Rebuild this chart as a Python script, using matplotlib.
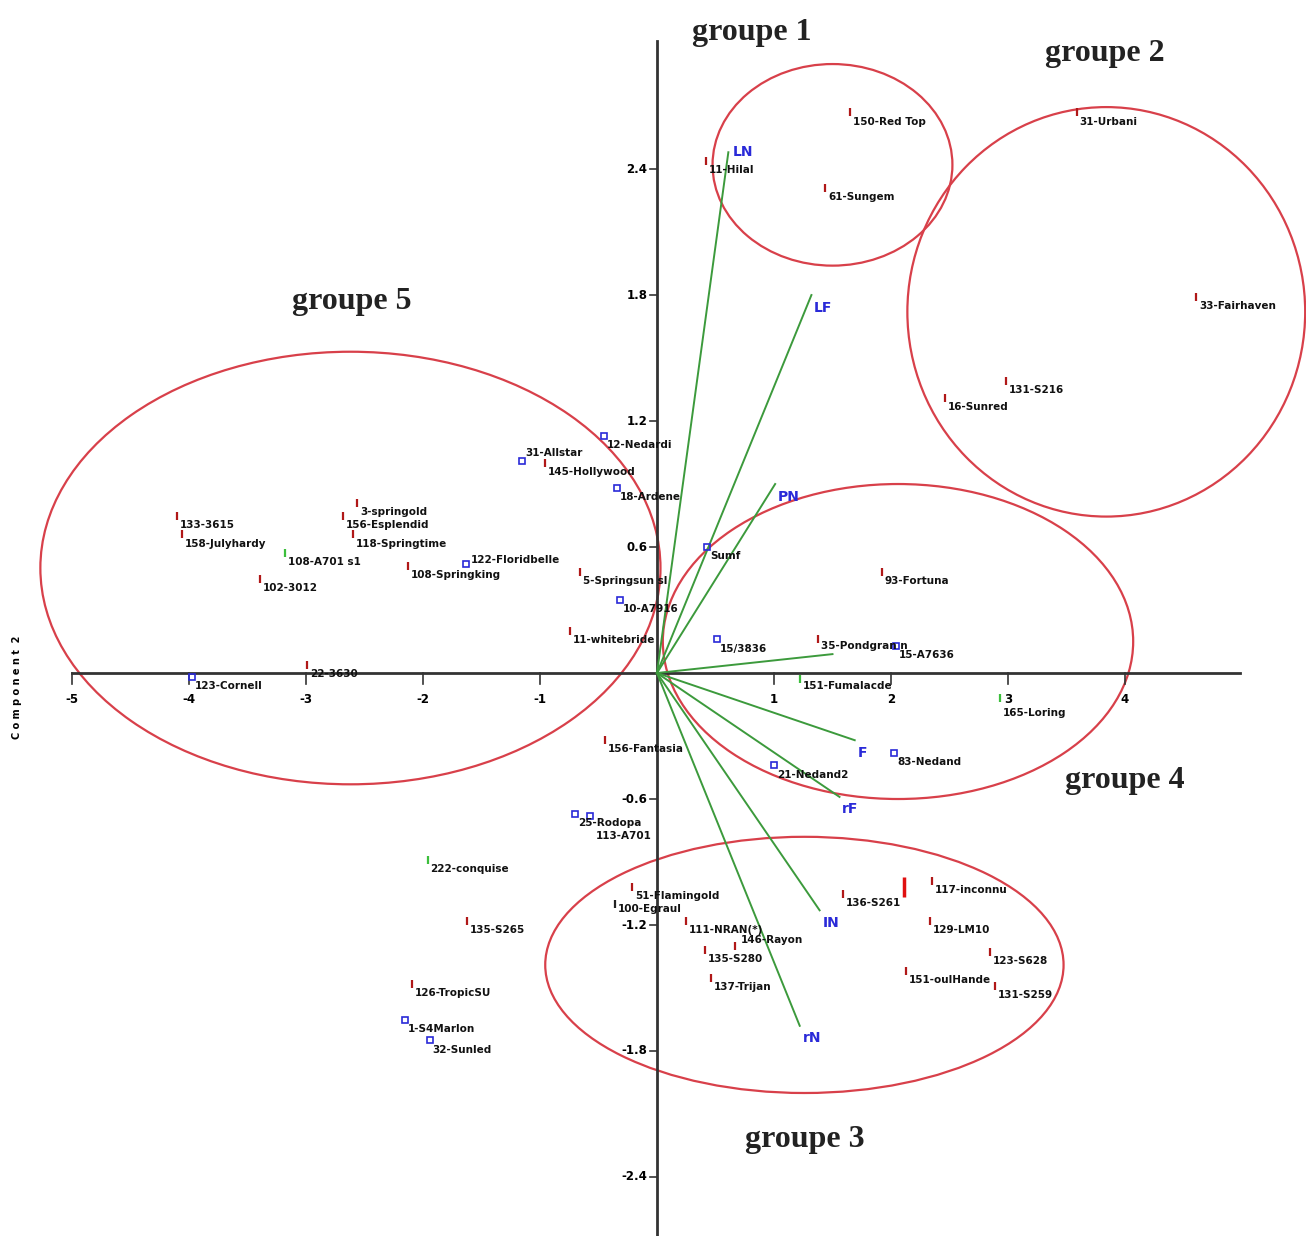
import numpy as np
import matplotlib.pyplot as plt
from matplotlib.patches import Ellipse

plt.rcParams['font.family'] = ['Liberation Sans Narrow', 'DejaVu Sans']

# cultivar scores on components 1 and 2
names = ['150-Red Top', '61-Sungem', '11-Hilal',
         '31-Urbani', '33-Fairhaven', '131-S216', '16-Sunred',
         '133-3615', '158-Julyhardy', '108-A701 s1', '102-3012',
         '3-springold', '156-Esplendid', '118-Springtime', '108-Springking',
         '122-Floridbelle', '31-Allstar', '145-Hollywood', '12-Nedardi',
         '18-Ardene', '5-Springsun sl', '10-A7916', '11-whitebride',
         '123-Cornell', '22-3630',
         'Sumf', '93-Fortuna', '15/3836', '35-Pondgran n', '15-A7636',
         '151-Fumalacde', '165-Loring', '83-Nedand', '21-Nedand2',
         '156-Fantasia', '25-Rodopa', '113-A701', '222-conquise',
         '135-S265', '126-TropicSU', '1-S4Marlon', '32-Sunled',
         '51-Flamingold', '100-Egraul', '111-NRAN(*)', '146-Rayon',
         '135-S280', '137-Trijan', '136-S261', '117-inconnu',
         '129-LM10', '151-oulHande', '123-S628', '131-S259', '']
comp1 = [1.65, 1.44, 0.42,
         3.59, 4.61, 2.98, 2.46,
         -4.10, -4.06, -3.18, -3.39,
         -2.56, -2.68, -2.60, -2.13,
         -1.63, -1.15, -0.96, -0.45,
         -0.34, -0.66, -0.32, -0.74,
         -3.97, -2.99,
         0.43, 1.92, 0.51, 1.38, 2.04,
         1.22, 2.93, 2.03, 1.00,
         -0.44, -0.70, -0.57, -1.96,
         -1.62, -2.09, -2.15, -1.94,
         -0.21, -0.36, 0.25, 0.67,
         0.41, 0.46, 1.59, 2.35,
         2.33, 2.13, 2.85, 2.89, 2.11]
comp2 = [2.67, 2.31, 2.44,
         2.67, 1.79, 1.39, 1.31,
         0.75, 0.66, 0.57, 0.45,
         0.81, 0.75, 0.66, 0.51,
         0.52, 1.01, 1.00, 1.13,
         0.88, 0.48, 0.35, 0.20,
         -0.02, 0.04,
         0.60, 0.48, 0.16, 0.16, 0.13,
         -0.03, -0.12, -0.38, -0.44,
         -0.32, -0.67, -0.68, -0.89,
         -1.18, -1.48, -1.65, -1.75,
         -1.02, -1.10, -1.18, -1.30,
         -1.32, -1.45, -1.05, -0.99,
         -1.18, -1.42, -1.33, -1.49, -1.02]
kind = ['r', 'r', 'r',
        'r', 'r', 'r', 'r',
        'r', 'r', 'g', 'r',
        'r', 'r', 'r', 'r',
        'b', 'b', 'r', 'b',
        'b', 'r', 'b', 'r',
        'b', 'r',
        'b', 'r', 'b', 'r', 'b',
        'g', 'g', 'b', 'b',
        'r', 'b', 'b', 'g',
        'r', 'r', 'b', 'b',
        'r', 'k', 'r', 'r',
        'r', 'r', 'r', 'r',
        'r', 'r', 'r', 'r', 'R']

# variable loadings (arrows)
var_names = ['LN', 'LF', 'PN', '', 'F', 'rF', 'IN', 'rN']
var_x = [0.61, 1.32, 1.01, 1.50, 1.69, 1.56, 1.39, 1.22]
var_y = [2.48, 1.80, 0.90, 0.09, -0.32, -0.59, -1.13, -1.68]

# groups: centre, width, height
grp_names = ['groupe 1', 'groupe 2', 'groupe 3', 'groupe 4', 'groupe 5']
grp_cx = [1.50, 3.84, 1.26, 2.06, -2.62]
grp_cy = [2.42, 1.72, -1.39, 0.15, 0.50]
grp_w = [2.05, 3.40, 4.43, 4.02, 5.30]
grp_h = [0.96, 1.95, 1.22, 1.50, 2.06]
grp_tx = [0.81, 3.83, 1.26, 4.00, -2.61]
grp_ty = [3.05, 2.95, -2.22, -0.51, 1.77]

xticks = [-5, -4, -3, -2, -1, 1, 2, 3, 4]
yticks = [2.4, 1.8, 1.2, 0.6, -0.6, -1.2, -1.8, -2.4]

# label nudges (points) where names crowd each other
nudge = {'31-Allstar': (2, 9), '113-A701': (4, -11), '122-Floridbelle': (3, 6),
         '146-Rayon': (4, 8), '165-Loring': (2, -7), '100-Egraul': (2, 0),
         '35-Pondgran n': (2, -1), '151-Fumalacde': (2, -1)}

fig = plt.figure(figsize=(13.06, 12.36), dpi=100)
ax = fig.add_axes([0, 0, 1, 1])
ax.set_xlim(-5.615, 5.547)
ax.set_ylim(-2.681, 3.205)
ax.axis('off')

# axes through the origin
ax.plot([-5, 4.98], [0, 0], color='#333333', lw=2)
ax.plot([0, 0], [-2.68, 3.01], color='#333333', lw=2)
for t in xticks:
    ax.plot([t, t], [0, -0.05], color='#333333', lw=1.2)
    ax.text(t, -0.097, str(t), ha='center', va='top', fontsize=8.5, fontweight='bold')
for t in yticks:
    ax.plot([-0.06, 0], [t, t], color='#333333', lw=1.2)
    ax.text(-0.08, t, str(t), ha='right', va='center', fontsize=8.5, fontweight='bold')
ax.text(-5.47, -0.07, 'C o m p o n e n t  2', rotation=90, ha='center', va='center',
        fontsize=7, fontweight='bold')

# loadings
for n, vx, vy in zip(var_names, var_x, var_y):
    ax.plot([0, vx], [0, vy], color='#3c9a3c', lw=1.4)
    off = (3, 0) if n == 'LN' else (2, -4)
    va = 'center' if n == 'LN' else 'top'
    ax.annotate(n, (vx, vy), xytext=off, textcoords='offset points',
                ha='left', va=va, color='#2a2ad8', fontsize=10, fontweight='bold')

# cultivars
col = {'r': '#b01818', 'R': '#e01010', 'b': '#2a2ad8', 'g': '#3cbf3c', 'k': '#222222'}
for n, x, y, k in zip(names, comp1, comp2, kind):
    if k == 'b':
        ax.plot(x, y, marker='s', ms=4, mfc='none', mec=col[k], mew=1.2)
    elif k == 'R':
        ax.plot(x, y, marker='|', ms=14, color=col[k], mew=2.5)
    else:
        ax.plot(x, y, marker='|', ms=6, color=col[k], mew=1.6)
    if n:
        ax.annotate(n, (x, y), xytext=nudge.get(n, (2, -3)), textcoords='offset points',
                    ha='left', va='top', fontsize=7.5, fontweight='bold', color='#111111')

# group ellipses and titles
for g, cx, cy, w, h, tx, ty in zip(grp_names, grp_cx, grp_cy, grp_w, grp_h, grp_tx, grp_ty):
    ax.add_patch(Ellipse((cx, cy), w, h, fill=False, ec='#d8404a', lw=1.6))
    ax.text(tx, ty, g, ha='center', va='center', fontsize=23, fontweight='bold',
            family='Liberation Serif', color='#222222')

fig.savefig('out.png', dpi=100)
